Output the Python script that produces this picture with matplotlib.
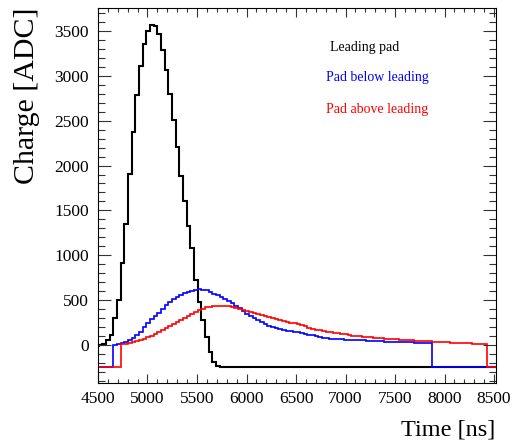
import numpy as np
import matplotlib.pyplot as plt
from matplotlib.ticker import MultipleLocator

# histogram binning (ns)
bin_start = 4470
bin_width = 37
n_bins = 110
baseline = -250

# leading pad, bins starting at index 0
lead_vals = [-8, -4, 12, 58, 110, 297, 502, 911, 1350, 1906,
             2378, 2787, 3110, 3352, 3504, 3567, 3556, 3464, 3289, 3066,
             2795, 2508, 2211, 1887, 1600, 1330, 1080, 725, 483, 279,
             86, -75, -186, -230, -245]
lead_first = 0

# pad below leading, first filled bin index 5
below_vals = [2, 14, 25, 38, 52, 76, 110, 150, 196, 244,
              285, 320, 352, 400, 444, 480, 511, 534, 556, 576,
              595, 605, 614, 620, 617, 608, 592, 573, 552, 530,
              510, 490, 465, 438, 410, 380, 350, 325, 300, 276,
              252, 232, 215, 200, 186, 175, 168, 160, 153, 146,
              140, 134, 126, 116, 106, 97, 88, 82, 76, 71,
              66, 63, 61, 60, 58, 56, 55, 52, 50, 47,
              45, 43, 41, 39, 37, 36, 34, 33, 31, 30,
              29, 28, 27, 26, 24, 20, 18]
below_first = 5

# pad above leading, first filled bin index 7
above_vals = [10, 16, 22, 30, 42, 56, 70, 86, 104, 122,
              141, 162, 185, 208, 232, 256, 278, 300, 323, 345,
              366, 388, 405, 418, 427, 433, 436, 436, 434, 429,
              422, 414, 405, 394, 382, 369, 357, 345, 333, 322,
              311, 300, 290, 280, 270, 260, 250, 240, 230, 218,
              206, 194, 182, 172, 163, 156, 149, 142, 135, 129,
              123, 117, 111, 105, 101, 97, 93, 89, 86, 82,
              79, 75, 71, 68, 65, 62, 59, 56, 54, 51,
              48, 46, 44, 42, 40, 38, 37, 35, 32, 29,
              27, 25, 23, 21, 19, 17, 15, 13, 11, 16]
above_first = 7

labels = ['Leading pad', 'Pad below leading', 'Pad above leading']
colors = ['black', '#0000ff', '#ff0000']

edges = bin_start + bin_width * np.arange(n_bins + 1)


def fill_hist(vals, first):
    h = np.full(n_bins, float(baseline))
    h[first:first + len(vals)] = vals
    return h


hists = [fill_hist(lead_vals, lead_first),
         fill_hist(below_vals, below_first),
         fill_hist(above_vals, above_first)]

plt.rcParams['font.family'] = ['Liberation Serif', 'DejaVu Serif']

fig = plt.figure(figsize=(5.14, 4.43), dpi=100)
ax = fig.add_axes([97.5 / 514, 1 - 383 / 443, 398.5 / 514, 375 / 443])

for h, c, lw in zip(hists, colors, [1.5, 1.2, 1.2]):
    ax.stairs(h, edges, color=c, linewidth=lw)

ax.set_xlim(4495, 8520)
ax.set_ylim(-424, 3756)

ax.xaxis.set_major_locator(MultipleLocator(500))
ax.xaxis.set_minor_locator(MultipleLocator(100))
ax.yaxis.set_major_locator(MultipleLocator(500))
ax.yaxis.set_minor_locator(MultipleLocator(100))

ax.tick_params(axis='both', which='both', direction='in', top=True, right=True,
               labelsize=12.5, color='#333333', width=0.8)
ax.tick_params(axis='x', which='major', length=6.5, pad=6)
ax.tick_params(axis='x', which='minor', length=3.2)
ax.tick_params(axis='y', which='major', length=9.4, pad=6)
ax.tick_params(axis='y', which='minor', length=4.7)
for s in ax.spines.values():
    s.set_linewidth(0.8)

fig.text(27 / 514, 1 - 7 / 443, 'Charge [ADC]', rotation=90, ha='center',
         va='top', fontsize=21.5)
fig.text(495 / 514, 1 - 430 / 443, 'Time [ns]', ha='right', va='center',
         fontsize=17.5)

text_pos = [(330, 47), (326, 78), (326, 109)]
for lab, c, (x, y) in zip(labels, colors, text_pos):
    fig.text(x / 514, 1 - y / 443, lab, color=c, fontsize=10,
             ha='left', va='center')

fig.savefig('out.png', dpi=100)
